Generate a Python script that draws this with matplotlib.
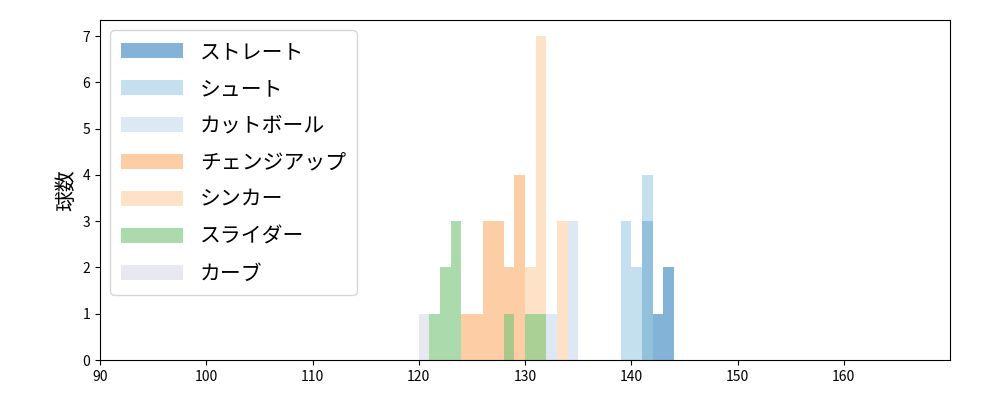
import matplotlib
matplotlib.use("Agg")
import matplotlib.pyplot as plt
import numpy as np

plt.rcParams['font.family'] = ['Noto Sans CJK JP', 'DejaVu Sans']

pitches = ["ストレート", "シュート", "カットボール", "チェンジアップ", "シンカー", "スライダー", "カーブ"]
colors = ["#3182bd", "#9ecae1", "#c6dbef", "#fdae6b", "#fdd0a2", "#74c476", "#dadaeb"]
# speeds (bin start, km/h) and counts
straight_speed = [141, 142, 143]; straight_count = [3, 1, 2]
shoot_speed = [139, 140, 141]; shoot_count = [3, 2, 4]
cutter_speed = [132, 134]; cutter_count = [1, 3]
change_speed = [124, 125, 126, 127, 128, 129]; change_count = [1, 1, 3, 3, 2, 4]
sinker_speed = [130, 131, 133]; sinker_count = [2, 7, 3]
slider_speed = [121, 122, 123, 128, 130, 131]; slider_count = [1, 2, 3, 1, 1, 1]
curve_speed = [120]; curve_count = [1]

series = [(straight_speed, straight_count), (shoot_speed, shoot_count), (cutter_speed, cutter_count),
          (change_speed, change_count), (sinker_speed, sinker_count), (slider_speed, slider_count),
          (curve_speed, curve_count)]

fig, ax = plt.subplots(figsize=(10, 4), dpi=100)
bins = np.arange(90, 171, 1)
for name, c, (s, n) in zip(pitches, colors, series):
    ax.hist(np.array(s) + 0.5, bins=bins, weights=n, color=c, alpha=0.6, label=name)

ax.set_xlim(90, 170)
ax.set_ylim(0, 7.35)
ax.set_xticks(range(90, 161, 10))
ax.set_ylabel("球数", fontsize=15)
ax.legend(loc="upper left", fontsize=15, handlelength=3, labelspacing=0.72, borderpad=0.5)
fig.subplots_adjust(left=0.1, right=0.95, top=0.95, bottom=0.1)
fig.savefig("out.png")
